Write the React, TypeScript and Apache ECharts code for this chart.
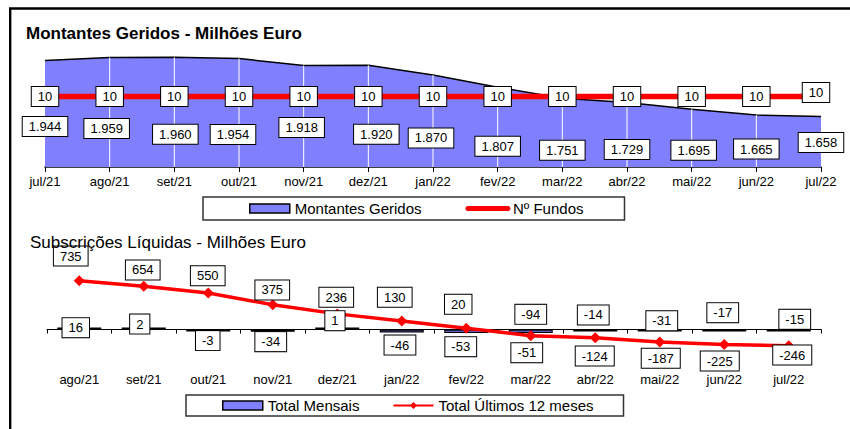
import React, { useEffect, useRef } from "react";
import * as echarts from "echarts";

// ---- data ----
const monthsTop = ["jul/21", "ago/21", "set/21", "out/21", "nov/21", "dez/21", "jan/22", "fev/22", "mar/22", "abr/22", "mai/22", "jun/22", "jul/22"];
const managedAmounts = [1944, 1959, 1960, 1954, 1918, 1920, 1870, 1807, 1751, 1729, 1695, 1665, 1658];
const fundCount = [10, 10, 10, 10, 10, 10, 10, 10, 10, 10, 10, 10, 10];

const monthsBottom = ["ago/21", "set/21", "out/21", "nov/21", "dez/21", "jan/22", "fev/22", "mar/22", "abr/22", "mai/22", "jun/22", "jul/22"];
const monthlyNet = [16, 2, -3, -34, 1, -46, -53, -51, -14, -31, -17, -15];
const rolling12 = [735, 654, 550, 375, 236, 130, 20, -94, -124, -187, -225, -246];

// ---- label placement (layout only) ----
const areaLabelOffsets = [[0, 66], [-3, 71], [1, 77], [-6, 76], [-2, 62], [8, 69], [-2, 63], [0, 59], [0, 52], [0, 47], [2, 41], [0, 34], [0, 26]];
const fundLabelOffsets = [[0, 0], [0, 0], [0, 0], [0, 0], [0, 0], [0, 0], [0, 0], [0, 0], [0, 0], [0, 0], [0, 0], [0, 0], [-5, -4]];
const monthlyLabelOffsets = [[-3.5, -1.3], [-4, -5.4], [-0.5, 11], [-2, 11], [-2.3, -8.8], [-1.8, 14], [-5.5, 15.4], [-4, 21.5], [-2, -15], [2, -9.8], [-1.5, -17.4], [6, -10.7]];
const rollingLabelOffsets = [[-8.5, -24.8], [-1, -16.2], [-0.5, -17.4], [-0.5, -14.7], [-1, -16.6], [-7, -23.6], [-8, -23.9], [0, -21.4], [-0.5, 18.3], [1, 16.4], [-4.5, 16.6], [3.5, 9.2]];

const FONT = 'Arial, "Liberation Sans", sans-serif';
const BLUE = "#8080ff";
const RED = "#ff0000";

const fmt = (v: number) => String(v).replace(/\B(?=(\d{3})+(?!\d))/g, ".");

const boxLabel = {
  show: true,
  position: "inside",
  color: "#000",
  fontSize: 13,
  fontFamily: FONT,
  backgroundColor: "#fff",
  borderColor: "#000",
  borderWidth: 1,
  padding: [3, 6, 3, 6],
  formatter: (p: any) => fmt(p.value),
};

const withOffsets = (values: number[], offsets: number[][]) =>
  values.map((v, i) => ({ value: v, label: { offset: offsets[i] } }));

export default function App() {
  const ref = useRef<HTMLDivElement>(null);

  useEffect(() => {
    if (!ref.current) return;
    const chart = echarts.init(ref.current, null, { renderer: "svg" });
    const n = managedAmounts.length;
    const dropLines = managedAmounts.map((v, i) => (i === 0 || i === n - 1 ? "-" : v));

    const option: any = {
      animation: false,
      backgroundColor: "#fff",
      textStyle: { fontFamily: FONT },
      title: [
        {
          text: "Montantes Geridos - Milhões Euro",
          left: 26,
          top: 25,
          padding: 0,
          textStyle: { fontSize: 17, fontWeight: "bold", color: "#000", fontFamily: FONT },
        },
        {
          text: "Subscrições Líquidas - Milhões Euro",
          left: 30,
          top: 234,
          padding: 0,
          textStyle: { fontSize: 17, fontWeight: "normal", color: "#000", fontFamily: FONT },
        },
      ],
      graphic: [
        {
          type: "rect",
          shape: { x: 10.2, y: 8.5, width: 1000, height: 600 },
          style: { fill: "none", stroke: "#000", lineWidth: 2.4 },
          silent: true,
        },
      ],
      legend: [
        {
          data: [
            { name: "Montantes Geridos", icon: "rect", itemStyle: { color: BLUE, borderColor: "#000", borderWidth: 1.5 } },
            { name: "Nº Fundos", itemStyle: { opacity: 0 }, lineStyle: { width: 5, cap: "round" } },
          ],
          left: 203,
          top: 197,
          orient: "horizontal",
          itemWidth: 40,
          itemHeight: 9,
          itemGap: 44,
          padding: [4, 41, 4, 46],
          borderColor: "#333",
          borderWidth: 1.5,
          textStyle: { fontSize: 15, color: "#000", fontFamily: FONT },
          selectedMode: false,
        },
        {
          data: [
            { name: "Total Mensais", icon: "rect", itemStyle: { color: BLUE, borderColor: "#000", borderWidth: 1.5 } },
            { name: "Total Últimos 12 meses" },
          ],
          left: 186,
          top: 395,
          orient: "horizontal",
          itemWidth: 40,
          itemHeight: 9,
          itemGap: 33,
          padding: [3, 30, 3, 36],
          borderColor: "#333",
          borderWidth: 1.5,
          textStyle: { fontSize: 15, color: "#000", fontFamily: FONT },
          selectedMode: false,
        },
      ],
      grid: [
        { left: 45, right: 29, top: 49.5, height: 117.5, containLabel: false },
        { left: 47, right: 29, top: 263.25, height: 99.4, containLabel: false },
      ],
      xAxis: [
        {
          type: "category",
          gridIndex: 0,
          data: monthsTop,
          boundaryGap: false,
          axisLine: { show: true, lineStyle: { color: "#000", width: 1.5 } },
          axisTick: { show: true, length: 5, lineStyle: { color: "#000" } },
          axisLabel: { interval: 0, margin: 8, fontSize: 13, color: "#000", fontFamily: FONT },
          splitLine: { show: false },
        },
        {
          type: "category",
          gridIndex: 1,
          data: monthsBottom,
          boundaryGap: true,
          axisLine: { show: true, onZero: true, lineStyle: { color: "#000", width: 1 } },
          axisTick: { show: true, length: 4, interval: 0, lineStyle: { color: "#000" } },
          axisLabel: { interval: 0, margin: 10, fontSize: 13, color: "#000", fontFamily: FONT },
          splitLine: { show: false },
        },
      ],
      yAxis: [
        { type: "value", gridIndex: 0, min: 1400, max: 2000, show: false, splitLine: { show: false } },
        { type: "value", gridIndex: 0, min: 4, max: 14, show: false, splitLine: { show: false } },
        { type: "value", gridIndex: 1, min: -500, max: 1000, show: false, splitLine: { show: false } },
      ],
      series: [
        {
          name: "Montantes Geridos",
          type: "line",
          xAxisIndex: 0,
          yAxisIndex: 0,
          data: managedAmounts,
          symbol: "none",
          lineStyle: { color: "#000", width: 1.5 },
          itemStyle: { color: BLUE },
          areaStyle: { color: BLUE, opacity: 1 },
          z: 2,
          silent: true,
        },
        {
          name: "dropLines",
          type: "bar",
          xAxisIndex: 0,
          yAxisIndex: 0,
          data: dropLines,
          barWidth: 1,
          itemStyle: { color: "#fff" },
          z: 3,
          silent: true,
        },
        {
          name: "Nº Fundos",
          type: "line",
          xAxisIndex: 0,
          yAxisIndex: 1,
          data: withOffsets(fundCount, fundLabelOffsets),
          symbol: "circle",
          symbolSize: 1,
          lineStyle: { color: RED, width: 5.5 },
          itemStyle: { color: RED },
          label: boxLabel,
          z: 5,
          silent: true,
        },
        {
          name: "areaLabels",
          type: "line",
          xAxisIndex: 0,
          yAxisIndex: 0,
          data: withOffsets(managedAmounts, areaLabelOffsets),
          symbol: "circle",
          symbolSize: 1,
          lineStyle: { width: 0, opacity: 0 },
          itemStyle: { color: "rgba(0,0,0,0)" },
          label: boxLabel,
          z: 6,
          silent: true,
        },
        {
          name: "Total Mensais",
          type: "bar",
          xAxisIndex: 1,
          yAxisIndex: 2,
          data: monthlyNet,
          barWidth: 44,
          barGap: "-100%",
          barMinHeight: 2,
          itemStyle: { color: BLUE, borderColor: "#000", borderWidth: 1.2 },
          z: 2,
          silent: true,
        },
        {
          name: "Total Últimos 12 meses",
          type: "line",
          xAxisIndex: 1,
          yAxisIndex: 2,
          data: withOffsets(rolling12, rollingLabelOffsets),
          symbol: "diamond",
          symbolSize: 11,
          lineStyle: { color: RED, width: 3.5 },
          itemStyle: { color: RED },
          label: boxLabel,
          z: 4,
          silent: true,
        },
        {
          name: "monthlyLabels",
          type: "bar",
          xAxisIndex: 1,
          yAxisIndex: 2,
          data: withOffsets(monthlyNet, monthlyLabelOffsets),
          barWidth: 44,
          barGap: "-100%",
          itemStyle: { color: "rgba(0,0,0,0)", borderWidth: 0 },
          label: boxLabel,
          z: 6,
          silent: true,
        },
      ],
    };

    chart.setOption(option);
    return () => chart.dispose();
  }, []);

  return (
    <div
      ref={ref}
      style={{ position: "absolute", left: 0, top: 0, width: 850, height: 429 }}
    />
  );
}
